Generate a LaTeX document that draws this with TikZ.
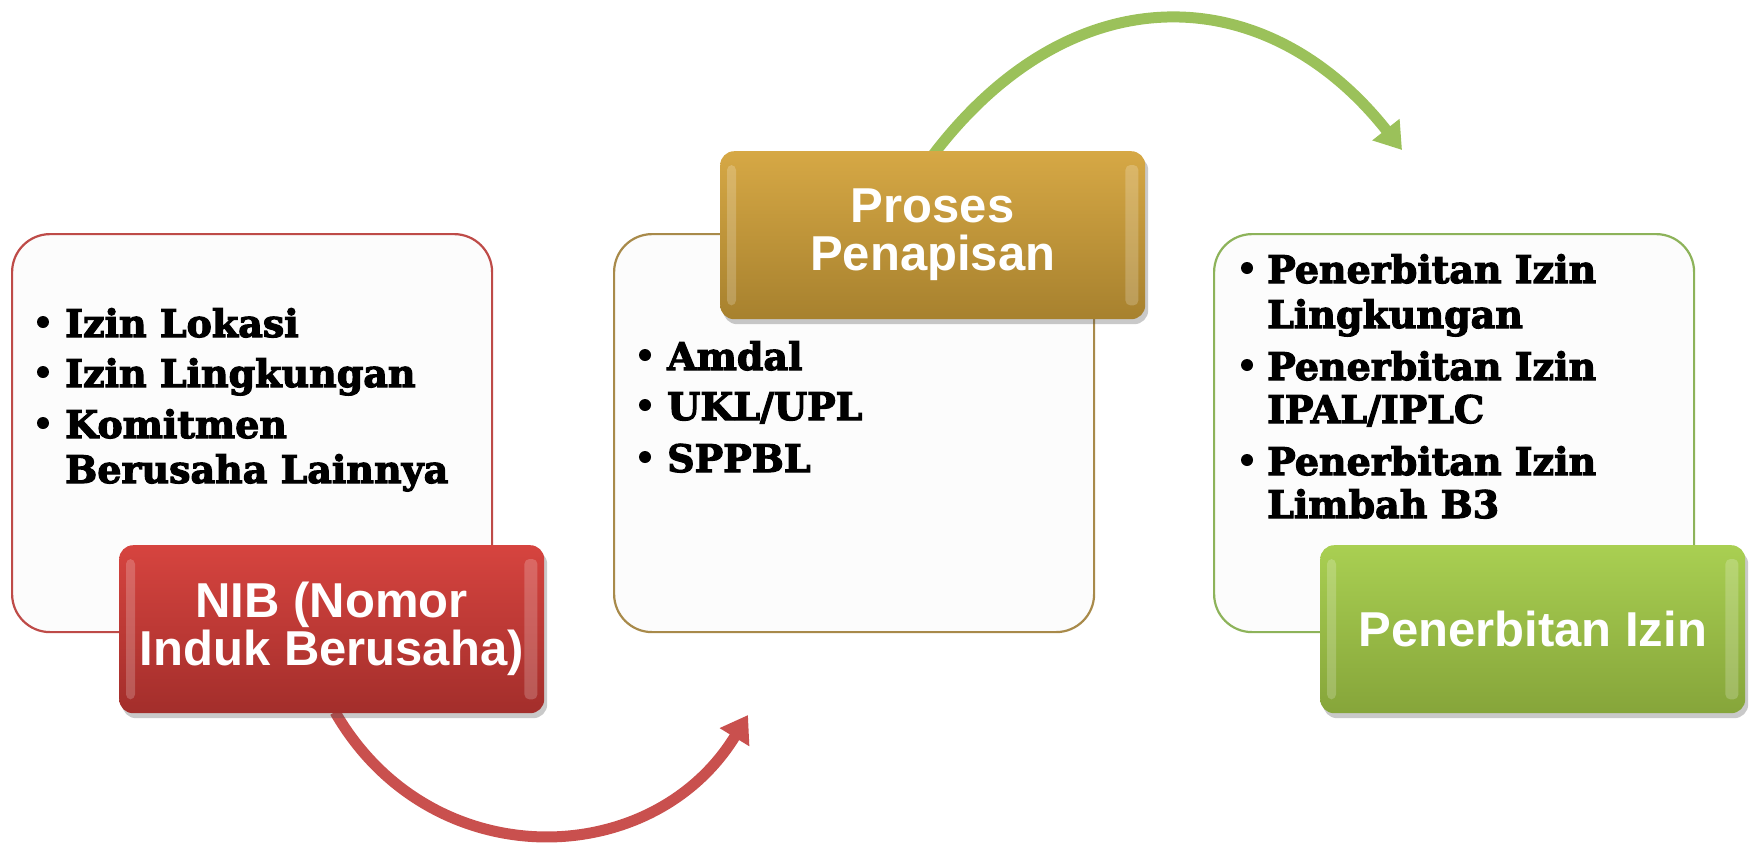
\documentclass[tikz,border=0pt]{standalone}
\usepackage{fontspec}
\newfontfamily\bodyfont{DejaVu Serif}[BoldFeatures={FakeBold=3}]
\newfontfamily\titlefont{Liberation Sans}
\usetikzlibrary{arrows.meta,shadows,calc}
\definecolor{redline}{HTML}{BE4B48}
\definecolor{goldline}{HTML}{A88A4A}
\definecolor{greenline}{HTML}{8DB35A}
\definecolor{redtop}{HTML}{D6443F}
\definecolor{redbot}{HTML}{A32E2B}
\definecolor{goldtop}{HTML}{D6A845}
\definecolor{goldbot}{HTML}{A7812E}
\definecolor{greentop}{HTML}{A9CF52}
\definecolor{greenbot}{HTML}{86A53A}
\definecolor{redarrow}{HTML}{C9504E}
\definecolor{greenarrow}{HTML}{9BC15A}
\begin{document}
\begin{tikzpicture}[x=1pt,y=-1pt,
  whitebox/.style={draw=#1, line width=2.2pt, rounded corners=38pt, fill=white!99!black,
    minimum width=480pt, minimum height=398pt, anchor=north west, inner sep=0pt},
  titlebox/.style={rounded corners=14pt, minimum width=425pt, minimum height=168pt,
    anchor=north west, inner sep=0pt, align=center, text=white,
    font=\titlefont\bfseries\fontsize{49}{48}\selectfont,
    drop shadow={shadow xshift=3pt, shadow yshift=-5pt, opacity=0.3, fill=black!70}},
  itemtext/.style={anchor=base west, inner sep=0pt, font=\bodyfont\bfseries\fontsize{38}{44}\selectfont},
  bul/.style={circle, fill=black, inner sep=0pt, minimum size=12pt},
  bigarrow/.style={line width=11pt, draw=#1},
  strip/.style={fill=white, opacity=0.2, rounded corners=5pt}
]
\useasboundingbox (0,0) rectangle (1750,844);

% white content boxes
\node[whitebox=redline] (box1) at (11,233) {};
\node[whitebox=goldline] (box2) at (613,233) {};
\node[whitebox=greenline] (box3) at (1213,233) {};

% box 1 items
\node[bul] (b11) at (43,322) {};
\node[itemtext] (t11) at (65,337) {Izin Lokasi};
\node[bul] (b12) at (43,372) {};
\node[itemtext] (t12) at (65,387) {Izin Lingkungan};
\node[bul] (b13) at (43,423) {};
\node[itemtext] (t13) at (65,438) {Komitmen};
\node[itemtext] (t14) at (65,483) {Berusaha Lainnya};

% box 2 items
\node[bul] (b21) at (645,355) {};
\node[itemtext] (t21) at (667,370) {Amdal};
\node[bul] (b22) at (645,405) {};
\node[itemtext] (t22) at (667,420) {UKL/UPL};
\node[bul] (b23) at (645,457) {};
\node[itemtext] (t23) at (667,472) {SPPBL};

% box 3 items
\node[bul] (b31) at (1247,268) {};
\node[itemtext] (t31) at (1267,283) {Penerbitan Izin};
\node[itemtext] (t32) at (1267,328) {Lingkungan};
\node[bul] (b33) at (1247,365) {};
\node[itemtext] (t33) at (1267,380) {Penerbitan Izin};
\node[itemtext] (t34) at (1267,423) {IPAL/IPLC};
\node[bul] (b35) at (1247,460) {};
\node[itemtext] (t35) at (1267,475) {Penerbitan Izin};
\node[itemtext] (t36) at (1267,518) {Limbah B3};

% arrow end points
\coordinate (redstart) at (335,712);
\coordinate (redtip) at (748,715);
\coordinate (greenstart) at (933,155);
\coordinate (greentip) at (1402,150);

% curved arrows (behind the title boxes)
\draw[bigarrow=redarrow, -{Triangle[length=26pt,width=33pt]}]
  (redstart) .. controls (430,877) and (652,872) .. (redtip);
\draw[bigarrow=greenarrow, -{Triangle[length=26pt,width=33pt]}]
  (greenstart) .. controls (1073,-29) and (1267,-21) .. (greentip);

% title boxes
\node[titlebox, top color=redtop, bottom color=redbot] (nib) at (119,545)
  {NIB (Nomor\\Induk Berusaha)};
\node[titlebox, top color=goldtop, bottom color=goldbot] (proses) at (720,151)
  {Proses\\Penapisan};
\node[titlebox, top color=greentop, bottom color=greenbot] (izin) at (1320,545)
  {Penerbitan Izin};

% bevel highlights
\foreach \n in {nib,proses,izin}{
  \fill[strip] ($(\n.north east)+(-20,14)$) rectangle ($(\n.south east)+(-7,-14)$);
  \fill[strip] ($(\n.north west)+(7,14)$) rectangle ($(\n.south west)+(16,-14)$);
}
\end{tikzpicture}
\end{document}
